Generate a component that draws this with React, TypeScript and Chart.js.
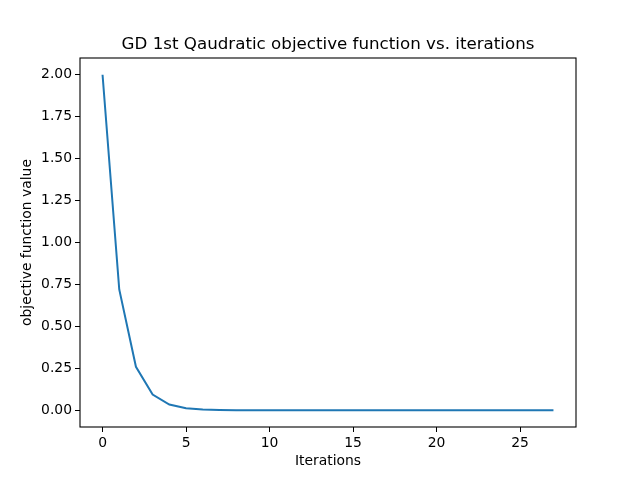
import { useEffect, useRef } from "react";
import { Chart, registerables } from "chart.js";

Chart.register(...registerables);

const iterations = [
    0, 1, 2, 3, 4, 5, 6, 7, 8, 9, 10, 11, 12, 13,
    14, 15, 16, 17, 18, 19, 20, 21, 22, 23, 24, 25, 26, 27,
];
const objectiveValues = [
    2.0, 0.72, 0.259, 0.0933, 0.0336, 0.0121, 0.00435, 0.00157, 0.000564, 0.000203,
    0.000073, 0.000026, 0.0000095, 0.0000034, 0.0000012, 0.00000044, 0.00000016,
    0.000000057, 0.00000002, 0.0000000074, 0.0000000027, 0.00000000096,
    0.00000000035, 0.00000000012, 0.000000000045, 0.000000000016, 0.0000000000058,
    0.0000000000021,
];
const xTicks = [0, 5, 10, 15, 20, 25];
const yTicks = [0, 0.25, 0.5, 0.75, 1.0, 1.25, 1.5, 1.75, 2.0];
const chartTitle = "GD 1st Qaudratic objective function vs. iterations";

const FONT = "'DejaVu Sans', sans-serif";

// matplotlib-style box around the axes plus a title centred on the plot area
const frame = {
    id: "frame",
    afterDraw(chart: Chart) {
        const { ctx, chartArea } = chart;
        ctx.save();
        ctx.strokeStyle = "#000";
        ctx.lineWidth = 1.1;
        ctx.strokeRect(chartArea.left, chartArea.top, chartArea.right - chartArea.left, chartArea.bottom - chartArea.top);
        ctx.fillStyle = "#000";
        ctx.font = "16.7px " + FONT;
        ctx.textAlign = "center";
        ctx.textBaseline = "alphabetic";
        ctx.fillText(chartTitle, (chartArea.left + chartArea.right) / 2, 49);
        ctx.restore();
    },
};

export default function App() {
    const chartRef = useRef<HTMLCanvasElement | null>(null);
    const chartInstanceRef = useRef<Chart | null>(null);

    useEffect(() => {
        document.body.style.margin = "0";
        if (chartInstanceRef.current) {
            chartInstanceRef.current.destroy();
        }
        if (!chartRef.current) return;
        const ctx = chartRef.current.getContext("2d");
        if (!ctx) return;

        chartInstanceRef.current = new Chart(ctx, {
            type: "line",
            data: {
                datasets: [{
                    data: iterations.map((x, i) => ({ x, y: objectiveValues[i] })),
                    borderColor: "#1f77b4",
                    borderWidth: 2,
                    pointRadius: 0,
                    tension: 0,
                    fill: false,
                }],
            },
            plugins: [frame],
            options: {
                animation: false,
                responsive: false,
                layout: { padding: { left: 0, right: 64, top: 58, bottom: 0 } },
                plugins: {
                    legend: { display: false },
                    tooltip: { enabled: false },
                    title: { display: false },
                },
                scales: {
                    x: {
                        type: "linear",
                        min: -1.35,
                        max: 28.35,
                        afterBuildTicks: (scale: any) => {
                            scale.ticks = xTicks.map((v) => ({ value: v }));
                        },
                        afterFit: (scale: any) => {
                            scale.height = 53;
                        },
                        grid: { drawOnChartArea: false, drawTicks: true, tickLength: 5, color: "#000", tickWidth: 1 },
                        border: { display: false },
                        ticks: {
                            color: "#000",
                            font: { family: FONT, size: 13.9 },
                            padding: 3,
                            maxRotation: 0,
                            callback: (v: any) => String(v),
                        },
                        title: {
                            display: true,
                            text: "Iterations",
                            color: "#000",
                            font: { family: FONT, size: 13.9 },
                            padding: { top: 0, bottom: 10 },
                        },
                    },
                    y: {
                        type: "linear",
                        min: -0.1,
                        max: 2.1,
                        afterBuildTicks: (scale: any) => {
                            scale.ticks = yTicks.map((v) => ({ value: v }));
                        },
                        afterFit: (scale: any) => {
                            scale.width = 80;
                        },
                        grid: { drawOnChartArea: false, drawTicks: true, tickLength: 5, color: "#000", tickWidth: 1 },
                        border: { display: false },
                        ticks: {
                            color: "#000",
                            font: { family: FONT, size: 13.9 },
                            padding: 3,
                            callback: (v: any) => Number(v).toFixed(2),
                        },
                        title: {
                            display: true,
                            text: "objective function value",
                            color: "#000",
                            font: { family: FONT, size: 13.9 },
                            padding: { top: 19, bottom: 0 },
                        },
                    },
                },
            },
        });

        return () => {
            if (chartInstanceRef.current) {
                chartInstanceRef.current.destroy();
                chartInstanceRef.current = null;
            }
        };
    }, []);

    return (
        <div style={{ width: 640, height: 480, background: "#fff" }}>
            <canvas ref={chartRef} width={640} height={480} />
        </div>
    );
}
